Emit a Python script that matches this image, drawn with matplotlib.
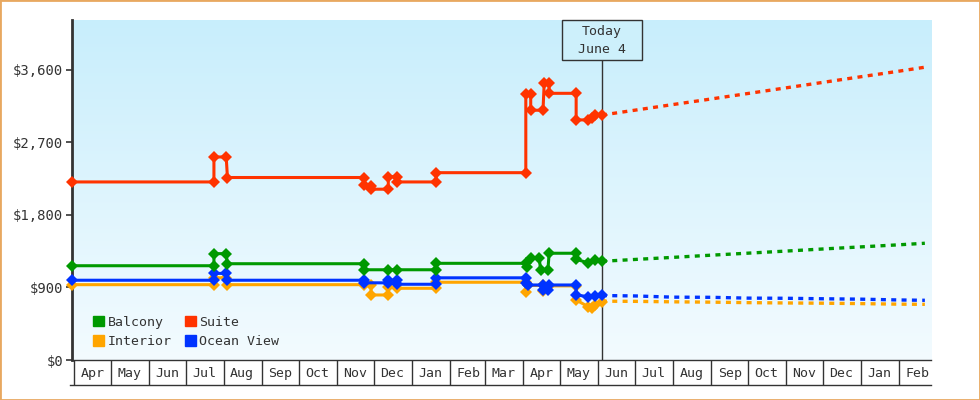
import matplotlib
matplotlib.use("Agg")
import matplotlib.pyplot as plt
import matplotlib.dates as mdates
import matplotlib.transforms as mtransforms
from matplotlib.patches import Rectangle, Patch
from matplotlib.lines import Line2D
from matplotlib.ticker import FuncFormatter, NullFormatter
import numpy as np
import pandas as pd


# price history
suite_dates = ["2023-03-30", "2023-07-24", "2023-07-24", "2023-08-03", "2023-08-04",
               "2023-11-23", "2023-11-23", "2023-11-29", "2023-11-29", "2023-12-13",
               "2023-12-13", "2023-12-20", "2023-12-20", "2024-01-21", "2024-01-21",
               "2024-04-03", "2024-04-03", "2024-04-07", "2024-04-07", "2024-04-17",
               "2024-04-18", "2024-04-22", "2024-04-22", "2024-05-14", "2024-05-14",
               "2024-05-24", "2024-05-27", "2024-05-29", "2024-06-04"]
suite_prices = [2210, 2210, 2520, 2520, 2265,
                2265, 2170, 2160, 2120, 2120,
                2275, 2275, 2210, 2210, 2325,
                2325, 3305, 3305, 3100, 3100,
                3440, 3440, 3310, 3310, 2980,
                2980, 3000, 3040, 3040]

balcony_dates = ["2023-03-30", "2023-07-24", "2023-07-24", "2023-08-03", "2023-08-04",
                 "2023-11-23", "2023-11-23", "2023-12-13", "2023-12-20", "2024-01-21",
                 "2024-01-21", "2024-04-03", "2024-04-04", "2024-04-07", "2024-04-14",
                 "2024-04-15", "2024-04-21", "2024-04-22", "2024-05-14", "2024-05-14",
                 "2024-05-24", "2024-05-29", "2024-06-04"]
balcony_prices = [1170, 1170, 1320, 1320, 1195,
                  1195, 1120, 1120, 1120, 1120,
                  1200, 1200, 1150, 1262, 1262,
                  1117, 1117, 1325, 1325, 1250,
                  1205, 1240, 1225]

ocean_dates = ["2023-03-30", "2023-07-24", "2023-07-24", "2023-08-03", "2023-08-04",
               "2023-11-23", "2023-11-23", "2023-12-13", "2023-12-13", "2023-12-20",
               "2023-12-20", "2024-01-21", "2024-01-21", "2024-04-03", "2024-04-03",
               "2024-04-05", "2024-04-17", "2024-04-17", "2024-04-21", "2024-04-22",
               "2024-05-14", "2024-05-14", "2024-05-24", "2024-05-29", "2024-06-04"]
ocean_prices = [990, 990, 1075, 1075, 990,
                990, 958, 958, 990, 990,
                940, 940, 1020, 1020, 960,
                931, 931, 870, 870, 931,
                931, 807, 786, 800, 805]

interior_dates = ["2023-03-30", "2023-07-24", "2023-07-24", "2023-08-03", "2023-08-04",
                  "2023-11-23", "2023-11-29", "2023-11-29", "2023-12-13", "2023-12-13",
                  "2023-12-20", "2024-01-21", "2024-01-21", "2024-04-03", "2024-04-03",
                  "2024-04-05", "2024-04-17", "2024-04-17", "2024-04-22", "2024-05-14",
                  "2024-05-14", "2024-05-24", "2024-05-27", "2024-05-29", "2024-06-04"]
interior_prices = [935, 935, 1020, 1020, 935,
                   935, 935, 807, 807, 910,
                   890, 890, 965, 965, 850,
                   925, 925, 860, 920, 920,
                   745, 660, 642, 680, 724]

# forecast after today
forecast_dates = ["2024-06-04", "2024-07-01", "2024-08-01", "2024-09-01", "2024-10-01",
                  "2024-11-01", "2024-12-01", "2025-01-01", "2025-02-01", "2025-02-22"]
suite_forecast = [3040, 3101, 3171, 3240, 3308, 3378, 3446, 3516, 3585, 3634]
balcony_forecast = [1225, 1248, 1274, 1301, 1326, 1352, 1378, 1404, 1430, 1449]
ocean_forecast = [800, 795, 780, 778, 768, 766, 760, 755, 745, 741]
interior_forecast = [730, 728, 722, 718, 712, 708, 705, 700, 693, 691]

today = pd.Timestamp("2024-06-04")
x_start = pd.Timestamp("2023-03-30")
x_end = pd.Timestamp("2025-02-27")
y_ticks = [0, 900, 1800, 2700, 3600]

RED = "#ff3300"
GREEN = "#009900"
ORANGE = "#ffa500"
BLUE = "#0033ff"
INK = "#333333"

plt.rcParams["font.family"] = "DejaVu Sans Mono"

fig = plt.figure(figsize=(9.8, 4), dpi=100)
ax = fig.add_axes([71.5 / 980, 40 / 400, 859.5 / 980, 340 / 400])

# gradient background
grad = np.linspace(0, 1, 256)[:, None, None]
top = np.array([200, 238, 252]) / 255
bottom = np.array([243, 251, 255]) / 255
img = top + (bottom - top) * grad
ax.imshow(img, extent=(0, 1, 0, 1), transform=ax.transAxes, aspect="auto", zorder=0)

series = [
    (interior_dates, interior_prices, interior_forecast, ORANGE),
    (ocean_dates, ocean_prices, ocean_forecast, BLUE),
    (balcony_dates, balcony_prices, balcony_forecast, GREEN),
    (suite_dates, suite_prices, suite_forecast, RED),
]
for dates, prices, forecast, color in series:
    ax.plot(pd.to_datetime(dates), prices, color=color, lw=2.2, marker="D",
            ms=5.8, mew=0, zorder=3, solid_joinstyle="miter", clip_on=False)
    ax.plot(pd.to_datetime(forecast_dates), forecast, color=color, lw=2.4,
            dashes=(1.5, 1.6), dash_capstyle="butt", zorder=3)

ax.set_xlim(x_start, x_end)
ax.set_ylim(0, 4220)

# today marker
trans = mtransforms.blended_transform_factory(ax.transData, ax.transAxes)
ax.axvline(today, ymin=0, ymax=0.882, color=INK, lw=1, zorder=2)
tnum = mdates.date2num(today)
ax.add_patch(Rectangle((tnum - 32.5, 0.882), 65, 0.118, transform=trans,
                       facecolor="#cdf0fb", edgecolor=INK, lw=1, zorder=5, clip_on=False))
ax.text(today, 0.965, "Today", transform=trans, ha="center", va="center",
        fontsize=9.5, color=INK, zorder=6)
ax.text(today, 0.913, "June 4", transform=trans, ha="center", va="center",
        fontsize=9.5, color=INK, zorder=6)

# axes styling
for side in ("top", "right"):
    ax.spines[side].set_visible(False)
ax.spines["left"].set_color(INK)
ax.spines["left"].set_linewidth(2)
ax.spines["bottom"].set_color(INK)
ax.spines["bottom"].set_linewidth(1)

ax.set_yticks(y_ticks)
ax.yaxis.set_major_formatter(FuncFormatter(lambda v, p: f"${v:,.0f}"))
ax.tick_params(axis="y", length=4, width=1.2, color=INK, labelcolor=INK,
               labelsize=10, pad=2)

ax.xaxis.set_major_locator(mdates.MonthLocator())
ax.xaxis.set_major_formatter(NullFormatter())
ax.xaxis.set_minor_locator(mdates.MonthLocator(bymonthday=16))
ax.xaxis.set_minor_formatter(mdates.DateFormatter("%b"))
ax.tick_params(axis="x", which="major", length=18, width=1, color=INK, direction="out")
ax.tick_params(axis="x", which="minor", length=0, pad=5, labelsize=9.5, labelcolor=INK)

fig.add_artist(Line2D([70 / 980, 931 / 980], [1 - 385 / 400, 1 - 385 / 400],
                      color=INK, lw=1))

handles = [Patch(color=GREEN, label="Balcony"), Patch(color=ORANGE, label="Interior"),
           Patch(color=RED, label="Suite"), Patch(color=BLUE, label="Ocean View")]
ax.legend(handles=handles, ncol=2, loc="lower left", bbox_to_anchor=(0.0254, 0.035),
          frameon=False, borderpad=0, borderaxespad=0, handlelength=0.83,
          handleheight=0.83, handletextpad=0.25, columnspacing=1.0,
          labelspacing=0.5, fontsize=9.5, labelcolor=INK)

fig.add_artist(Rectangle((0, 0), 1, 1, transform=fig.transFigure, fill=False,
                         edgecolor="#e8a860", lw=2))

fig.savefig("out.png", dpi=100)
